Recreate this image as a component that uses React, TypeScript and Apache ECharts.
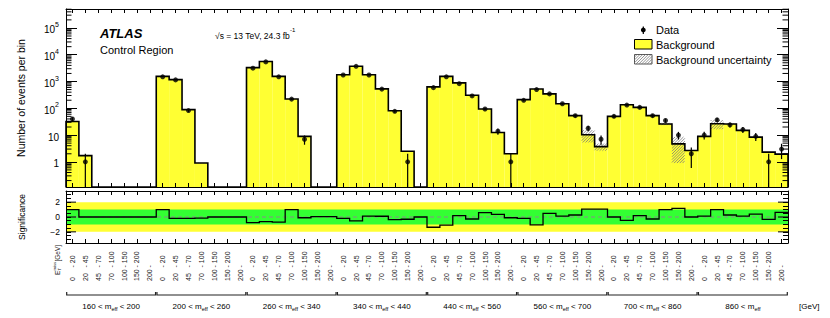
import React, { useEffect, useRef } from "react";
import * as echarts from "echarts";

const FONT = "'Liberation Sans', Arial, Helvetica, sans-serif";

// E_T^miss bins inside each m_eff region [GeV]
const metLow = [0, 20, 45, 70, 100, 150, 200];
const metHigh: (number | null)[] = [20, 45, 70, 100, 150, 200, null];
// m_eff regions [GeV]
const mEffLow = [160, 200, 260, 340, 440, 560, 700, 860];
const mEffHigh: (number | null)[] = [200, 260, 340, 440, 560, 700, 860, null];

// Background prediction per bin (0 = empty)
const background = [
  32, 1.7, 0, 0, 0, 0, 0,
  1550, 1180, 89, 0.9, 0, 0, 0,
  3300, 5600, 1550, 222, 8.9, 0, 0,
  1780, 3700, 1780, 530, 81, 2.5, 0,
  630, 1550, 890, 305, 94, 12.5, 2.0,
  210, 525, 345, 148, 53, 10.3, 3.7,
  50, 136, 108, 53, 26, 4.7, 2.65,
  8.9, 26.5, 26, 15, 8.4, 2.3, 1.95,
];

// Absolute background uncertainty per bin
const backgroundUnc = [
  0.5, 0.03, 0, 0, 0, 0, 0,
  20, 15, 1.2, 0.01, 0, 0, 0,
  40, 70, 20, 3, 0.12, 0, 0,
  25, 45, 25, 7, 1, 0.03, 0,
  8, 20, 11, 4, 1.2, 0.2, 0.03,
  3, 7, 5, 2, 1, 5, 1.1,
  0.7, 2, 1.5, 0.8, 2.5, 3.8, 0.05,
  0.15, 10, 1.2, 0.3, 0.15, 0.04, 0.04,
];

// Observed data per bin (null = no entry)
const observed: (number | null)[] = [
  40, 1, null, null, null, null, null,
  1500, 1150, 82, null, null, null, null,
  3150, 5400, 1500, 220, 7, null, null,
  1750, 3700, 1750, 520, 77, 1, null,
  590, 1500, 830, 290, 94, 14, 1,
  198, 500, 345, 148, 53, 18, 7,
  50, 132, 108, 53, 35, 10, 2,
  10, 37, 24, 16, 9, 1, 3,
];

// Significance per bin
const significance = [
  1.0, 0, 0, 0, 0, 0, 0,
  1.0, -0.18, -0.18, -0.15, 0, 0, 0,
  -0.75, -0.62, -0.7, 1.0, -0.1, 0.05, 0.05,
  -0.18, -0.53, 0.13, 0.1, -0.36, -0.3, 0,
  -1.38, -1.1, 0.18, -0.27, 0.58, 0.36, -0.1,
  -0.18, -1.07, 0.49, 0.13, 0.27, 1.07, 1.07,
  0, -0.45, 0.18, -0.27, 1.0, 1.15, 0,
  0.13, 1.0, 0.27, 0.13, 0.4, -0.31, 0.62,
];

const sigMajorTicks = [-2, 0, 2];
const logMinorMultipliers = [2, 3, 4, 5, 6, 7, 8, 9];

const NB = background.length;
const NPER = metLow.length;
const cats = background.map((_, i) => String(i));
const YMIN = 0.115;
const YMAX = 5.1e5;
const SMIN = -3.5;
const SMAX = 3.5;
const YELLOW = "#ffff33";
const GREEN = "#33ff33";

function hatch(x0: number, y0: number, x1: number, y1: number, step = 2.8, color = "#777") {
  const out: any[] = [];
  let c = Math.ceil((x0 + y0) / step) * step;
  for (; c <= x1 + y1; c += step) {
    const lo = Math.max(x0, c - y1);
    const hi = Math.min(x1, c - y0);
    if (hi - lo > 0.2) {
      out.push({
        type: "line",
        shape: { x1: lo, y1: c - lo, x2: hi, y2: c - hi },
        style: { stroke: color, lineWidth: 0.8 },
      });
    }
  }
  return out;
}

function catAxis(gridIndex: number, position: string, labels: boolean) {
  return {
    type: "category",
    gridIndex,
    position,
    data: cats,
    boundaryGap: true,
    z: 10,
    axisLine: { show: true, onZero: false, lineStyle: { color: "#000", width: 1 } },
    axisTick: {
      show: true,
      inside: true,
      length: 4,
      alignWithLabel: true,
      interval: 0,
      lineStyle: { color: "#000", width: 1 },
    },
    axisLabel: labels
      ? {
          show: true,
          interval: 0,
          rotate: 90,
          align: "left",
          verticalAlign: "middle",
          margin: 38,
          fontSize: 7,
          fontFamily: FONT,
          color: "#222",
          rich: {
            lo: { width: 13.6, align: "left", fontSize: 7, fontFamily: FONT, color: "#222" },
            hi: { fontSize: 7, fontFamily: FONT, color: "#222" },
          },
          formatter: (_v: string, idx: number) => {
            const k = idx % NPER;
            const hi = metHigh[k];
            return `{lo|${metLow[k]}}{hi|- ${hi != null ? hi : ""}}`;
          },
        }
      : { show: false },
    splitLine: { show: false },
  };
}

const supRich = {
  b: { fontSize: 10, fontFamily: FONT, color: "#000", lineHeight: 14, verticalAlign: "bottom" },
  sup: { fontSize: 7, fontFamily: FONT, color: "#000", lineHeight: 7, verticalAlign: "top" },
};

function buildOption() {
  const bins = background
    .map((v, i) => [i, v, backgroundUnc[i]])
    .filter((d) => d[1] > 0);
  const points = observed
    .map((v, i) => (v == null ? null : [i, v]))
    .filter((d) => d !== null) as number[][];

  return {
    animation: false,
    backgroundColor: "#fff",
    textStyle: { fontFamily: FONT },
    grid: [
      { left: 66, top: 9, width: 722, height: 178 },
      { left: 66, top: 191, width: 722, height: 52 },
    ],
    xAxis: [
      catAxis(0, "bottom", false),
      catAxis(0, "top", false),
      catAxis(1, "bottom", true),
      catAxis(1, "top", false),
    ],
    yAxis: [
      {
        type: "log",
        gridIndex: 0,
        position: "left",
        min: YMIN,
        max: YMAX,
        z: 10,
        name: "Number of events per bin",
        nameLocation: "middle",
        nameGap: 40,
        nameRotate: 90,
        nameTextStyle: { fontSize: 10.5, fontFamily: FONT, color: "#000" },
        axisLine: { show: true, onZero: false, lineStyle: { color: "#000" } },
        axisTick: { show: true, inside: true, length: 11, lineStyle: { color: "#000" } },
        splitLine: { show: false },
        axisLabel: {
          show: true,
          margin: 7,
          rich: supRich,
          formatter: (v: number) => {
            const l = Math.log10(v);
            const k = Math.round(l);
            if (Math.abs(l - k) > 1e-6) return "";
            if (k === 0) return "{b|1}";
            if (k === 1) return "{b|10}";
            return `{b|10}{sup|${k}}`;
          },
        },
      },
      {
        type: "log",
        gridIndex: 0,
        position: "right",
        min: YMIN,
        max: YMAX,
        z: 10,
        axisLine: { show: true, onZero: false, lineStyle: { color: "#000" } },
        axisTick: { show: true, inside: true, length: 11, lineStyle: { color: "#000" } },
        splitLine: { show: false },
        axisLabel: { show: false },
      },
      {
        type: "value",
        gridIndex: 1,
        position: "left",
        min: SMIN,
        max: SMAX,
        interval: 0.5,
        z: 10,
        name: "Significance",
        nameLocation: "middle",
        nameGap: 40,
        nameRotate: 90,
        nameTextStyle: { fontSize: 8.5, fontFamily: FONT, color: "#000" },
        axisLine: { show: true, onZero: false, lineStyle: { color: "#000" } },
        axisTick: { show: true, inside: true, length: 5, lineStyle: { color: "#000" } },
        splitLine: { show: false },
        axisLabel: {
          show: true,
          margin: 6,
          fontSize: 8.5,
          fontFamily: FONT,
          color: "#000",
          formatter: (v: number) => {
            for (const t of sigMajorTicks) {
              if (Math.abs(v - t) < 1e-6) return t < 0 ? "\u2212" + Math.abs(t) : String(t);
            }
            return "";
          },
        },
      },
      {
        type: "value",
        gridIndex: 1,
        position: "right",
        min: SMIN,
        max: SMAX,
        interval: 0.5,
        z: 10,
        axisLine: { show: true, onZero: false, lineStyle: { color: "#000" } },
        axisTick: { show: true, inside: true, length: 5, lineStyle: { color: "#000" } },
        splitLine: { show: false },
        axisLabel: { show: false },
      },
    ],
    series: [
      // background fill + uncertainty hatch
      {
        type: "custom",
        xAxisIndex: 0,
        yAxisIndex: 0,
        z: 2,
        silent: true,
        data: bins,
        renderItem: (params: any, api: any) => {
          const i = api.value(0);
          const v = api.value(1);
          const u = api.value(2);
          const cs = params.coordSys;
          const bw = cs.width / NB;
          const p = api.coord([i, v]);
          const x0 = p[0] - bw / 2;
          const x1 = p[0] + bw / 2;
          const yb = cs.y + cs.height;
          const children: any[] = [
            { type: "rect", shape: { x: x0, y: p[1], width: bw, height: yb - p[1] }, style: { fill: YELLOW } },
          ];
          if (u > 0) {
            const top = Math.max(api.coord([i, v + u])[1], cs.y);
            const bot = v - u > YMIN ? api.coord([i, v - u])[1] : yb;
            children.push(...hatch(x0, top, x1, bot));
          }
          return { type: "group", children };
        },
      },
      // histogram outline
      {
        type: "custom",
        xAxisIndex: 0,
        yAxisIndex: 0,
        z: 4,
        silent: true,
        data: [[0, 1]],
        renderItem: (params: any, api: any) => {
          const cs = params.coordSys;
          const bw = cs.width / NB;
          const yb = cs.y + cs.height;
          const pts: number[][] = [];
          background.forEach((v, i) => {
            const xc = api.coord([i, 1])[0];
            const y = v > 0 ? api.coord([i, v])[1] : yb;
            if (i === 0) pts.push([xc - bw / 2, yb]);
            pts.push([xc - bw / 2, y]);
            pts.push([xc + bw / 2, y]);
            if (i === NB - 1) pts.push([xc + bw / 2, yb]);
          });
          return {
            type: "polyline",
            shape: { points: pts },
            style: { stroke: "#000", lineWidth: 1.6, fill: "none" },
          };
        },
      },
      // data error bars (Poisson sqrt(N) from observed counts)
      {
        type: "custom",
        xAxisIndex: 0,
        yAxisIndex: 0,
        z: 5,
        silent: true,
        data: points,
        renderItem: (params: any, api: any) => {
          const i = api.value(0);
          const v = api.value(1);
          const cs = params.coordSys;
          const yb = cs.y + cs.height;
          const e = Math.sqrt(v);
          const x = api.coord([i, v])[0];
          const top = Math.max(api.coord([i, v + e])[1], cs.y);
          const bot = v - e > YMIN ? api.coord([i, v - e])[1] : yb;
          return {
            type: "line",
            shape: { x1: x, y1: top, x2: x, y2: bot },
            style: { stroke: "#000", lineWidth: 1.2 },
          };
        },
      },
      {
        type: "scatter",
        xAxisIndex: 0,
        yAxisIndex: 0,
        z: 6,
        silent: true,
        symbol: "circle",
        symbolSize: 5,
        itemStyle: { color: "#000" },
        data: points,
      },
      // log minor ticks
      {
        type: "custom",
        xAxisIndex: 0,
        yAxisIndex: 0,
        z: 11,
        silent: true,
        data: [[0, 1]],
        renderItem: (params: any, api: any) => {
          const cs = params.coordSys;
          const ch: any[] = [];
          for (let k = -1; k <= 5; k++) {
            for (const m of logMinorMultipliers) {
              const v = m * Math.pow(10, k);
              if (v <= YMIN || v >= YMAX) continue;
              const y = api.coord([0, v])[1];
              ch.push({ type: "line", shape: { x1: cs.x, y1: y, x2: cs.x + 5.5, y2: y }, style: { stroke: "#000", lineWidth: 1 } });
              ch.push({ type: "line", shape: { x1: cs.x + cs.width - 5.5, y1: y, x2: cs.x + cs.width, y2: y }, style: { stroke: "#000", lineWidth: 1 } });
            }
          }
          return { type: "group", children: ch };
        },
      },
      // significance bands + zero line
      {
        type: "custom",
        xAxisIndex: 2,
        yAxisIndex: 2,
        z: 1,
        silent: true,
        data: [[0, 0]],
        renderItem: (params: any, api: any) => {
          const cs = params.coordSys;
          const y2p = api.coord([0, 2])[1];
          const y2m = api.coord([0, -2])[1];
          const y1p = api.coord([0, 1])[1];
          const y1m = api.coord([0, -1])[1];
          const y0 = api.coord([0, 0])[1];
          return {
            type: "group",
            children: [
              { type: "rect", shape: { x: cs.x, y: y2p, width: cs.width, height: y2m - y2p }, style: { fill: YELLOW } },
              { type: "rect", shape: { x: cs.x, y: y1p, width: cs.width, height: y1m - y1p }, style: { fill: GREEN } },
              {
                type: "line",
                shape: { x1: cs.x, y1: y0, x2: cs.x + cs.width, y2: y0 },
                style: { stroke: "#8c8c8c", lineWidth: 1, lineDash: [4, 3] },
              },
            ],
          };
        },
      },
      // significance step line
      {
        type: "custom",
        xAxisIndex: 2,
        yAxisIndex: 2,
        z: 4,
        silent: true,
        data: [[0, 0]],
        renderItem: (params: any, api: any) => {
          const cs = params.coordSys;
          const bw = cs.width / NB;
          const pts: number[][] = [];
          significance.forEach((s, i) => {
            const p = api.coord([i, s]);
            pts.push([p[0] - bw / 2, p[1]]);
            pts.push([p[0] + bw / 2, p[1]]);
          });
          return { type: "polyline", shape: { points: pts }, style: { stroke: "#000", lineWidth: 1.3, fill: "none" } };
        },
      },
      // significance major ticks
      {
        type: "custom",
        xAxisIndex: 2,
        yAxisIndex: 2,
        z: 11,
        silent: true,
        data: [[0, 0]],
        renderItem: (params: any, api: any) => {
          const cs = params.coordSys;
          const ch: any[] = [];
          sigMajorTicks.forEach((t) => {
            const y = api.coord([0, t])[1];
            ch.push({ type: "line", shape: { x1: cs.x, y1: y, x2: cs.x + 10, y2: y }, style: { stroke: "#000", lineWidth: 1 } });
            ch.push({ type: "line", shape: { x1: cs.x + cs.width - 10, y1: y, x2: cs.x + cs.width, y2: y }, style: { stroke: "#000", lineWidth: 1 } });
          });
          return { type: "group", children: ch };
        },
      },
      // m_eff region brackets and labels
      {
        type: "custom",
        xAxisIndex: 2,
        yAxisIndex: 2,
        z: 5,
        silent: true,
        data: mEffLow.map((_, g) => [g * NPER, 0]),
        renderItem: (params: any, api: any) => {
          const g = params.dataIndex;
          const cs = params.coordSys;
          const bw = cs.width / NB;
          const yb = cs.y + cs.height;
          const xs = api.coord([g * NPER, 0])[0] - bw / 2 + 0.7;
          const xe = api.coord([g * NPER + NPER - 1, 0])[0] + bw / 2 - 0.7;
          const ly = yb + 52;
          const hi = mEffHigh[g];
          const text =
            `{b|${mEffLow[g]} < m}{sub|eff}` + (hi != null ? `{b| < ${hi}}` : "");
          return {
            type: "group",
            children: [
              {
                type: "polyline",
                shape: { points: [[xs, ly - 3], [xs, ly], [xe, ly], [xe, ly - 3]] },
                style: { stroke: "#222", lineWidth: 1.2, fill: "none" },
              },
              {
                type: "text",
                x: (xs + xe) / 2,
                y: ly + 11,
                style: {
                  text,
                  align: "center",
                  verticalAlign: "middle",
                  rich: {
                    b: { fontSize: 8, fontFamily: FONT, fill: "#000", lineHeight: 11, verticalAlign: "middle" },
                    sub: { fontSize: 5.5, fontFamily: FONT, fill: "#000", lineHeight: 5, verticalAlign: "bottom" },
                  },
                },
              },
            ],
          };
        },
      },
    ],
    graphic: [
      {
        type: "text",
        left: 100,
        top: 27,
        style: { text: "ATLAS", font: `italic bold 13px ${FONT}`, fill: "#000" },
      },
      {
        type: "text",
        left: 100,
        top: 44,
        style: { text: "Control Region", font: `11px ${FONT}`, fill: "#000" },
      },
      {
        type: "text",
        left: 215,
        top: 27,
        style: {
          text: "{b|\u221As = 13 TeV, 24.3 fb}{sup|-1}",
          rich: {
            b: { fontSize: 8.5, fontFamily: FONT, fill: "#000", lineHeight: 13, verticalAlign: "bottom" },
            sup: { fontSize: 6, fontFamily: FONT, fill: "#000", lineHeight: 7, verticalAlign: "top" },
          },
        },
      },
      // legend
      { type: "line", shape: { x1: 643.3, y1: 26.5, x2: 643.3, y2: 34 }, style: { stroke: "#000", lineWidth: 1.2 } },
      { type: "circle", shape: { cx: 643.3, cy: 30, r: 2.4 }, style: { fill: "#000" } },
      {
        type: "text",
        x: 656,
        y: 30,
        style: { text: "Data", font: `11px ${FONT}`, fill: "#000", verticalAlign: "middle" },
      },
      {
        type: "rect",
        shape: { x: 634.5, y: 39.5, width: 17.5, height: 9.5 },
        style: { fill: YELLOW, stroke: "#000", lineWidth: 1 },
      },
      {
        type: "text",
        x: 656,
        y: 44.5,
        style: { text: "Background", font: `11px ${FONT}`, fill: "#000", verticalAlign: "middle" },
      },
      {
        type: "rect",
        shape: { x: 634.5, y: 54.5, width: 17.5, height: 9.5 },
        style: { fill: "#fff", stroke: "#555", lineWidth: 1 },
      },
      ...hatch(634.5, 54.5, 652, 64, 2.8, "#777"),
      {
        type: "text",
        x: 656,
        y: 59.5,
        style: { text: "Background uncertainty", font: `11px ${FONT}`, fill: "#000", verticalAlign: "middle" },
      },
      // E_T^miss axis title (rotated, reading upwards)
      {
        type: "group",
        x: 57,
        y: 275,
        rotation: Math.PI / 2,
        children: [
          { type: "text", x: 0, y: 0, style: { text: "E", font: `6.5px ${FONT}`, fill: "#222", verticalAlign: "middle" } },
          { type: "text", x: 4.6, y: -2.4, style: { text: "miss", font: `4.2px ${FONT}`, fill: "#222", verticalAlign: "middle" } },
          { type: "text", x: 4.6, y: 2.6, style: { text: "T", font: `4.2px ${FONT}`, fill: "#222", verticalAlign: "middle" } },
          { type: "text", x: 13.5, y: 0, style: { text: "[GeV]", font: `6.5px ${FONT}`, fill: "#222", verticalAlign: "middle" } },
        ],
      },
      {
        type: "text",
        x: 799,
        y: 306,
        style: { text: "[GeV]", font: `8px ${FONT}`, fill: "#000", verticalAlign: "middle" },
      },
    ],
  };
}

export default function App() {
  const ref = useRef<HTMLDivElement>(null);
  useEffect(() => {
    if (!ref.current) return;
    const chart = echarts.init(ref.current, null, { renderer: "svg" });
    chart.setOption(buildOption() as any);
    return () => chart.dispose();
  }, []);
  return (
    <div
      ref={ref}
      style={{ position: "fixed", left: 0, top: 0, width: 830, height: 318, background: "#fff" }}
    />
  );
}
